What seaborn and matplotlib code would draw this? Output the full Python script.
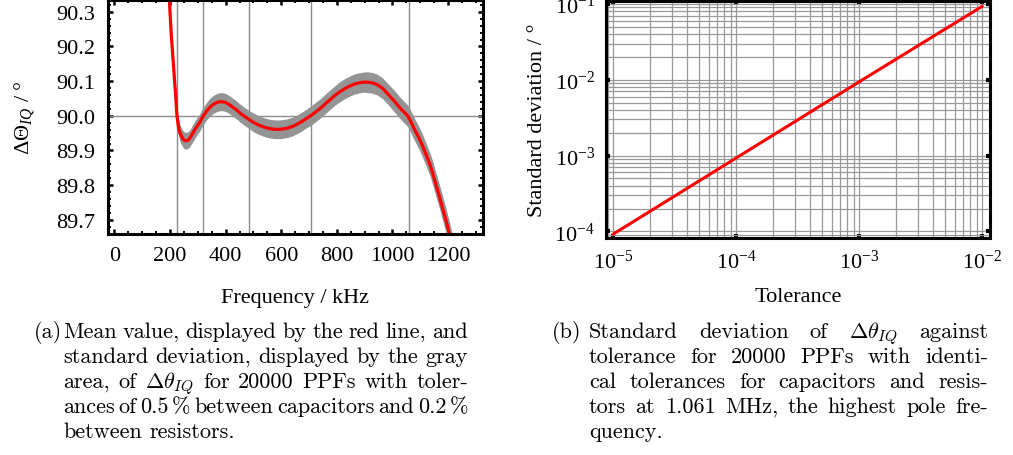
import matplotlib
matplotlib.use("Agg")
import matplotlib.pyplot as plt
import seaborn as sns
import numpy as np
import pandas as pd
from matplotlib.ticker import MultipleLocator, LogLocator, NullFormatter, FixedLocator

# ---------------- data ----------------
freq_khz = [190, 198, 204, 213, 221, 225, 230, 236, 245, 252, 260, 268, 275, 282, 290, 298,
            308, 316, 325, 334, 344, 354, 365, 375, 386, 398, 410, 424, 439, 452, 465, 476,
            487, 500, 520, 536, 553, 566, 580, 592, 605, 620, 640, 658, 675, 690, 706, 722,
            740, 758, 775, 792, 810, 830, 850, 865, 880, 895, 911, 928, 945, 965, 989, 1005,
            1025, 1040, 1055, 1068, 1080, 1095, 1109, 1122, 1135, 1146, 1157, 1168, 1180,
            1192, 1204, 1215]
mean_deg = [90.50, 90.33, 90.24, 90.14, 90.05, 90.00, 89.97, 89.95, 89.935, 89.929, 89.928,
            89.932, 89.94, 89.95, 89.961, 89.971, 89.982, 89.995, 90.006, 90.016, 90.025,
            90.032, 90.037, 90.040, 90.041, 90.039, 90.034, 90.026, 90.017, 90.008, 90.00,
            89.994, 89.988, 89.981, 89.973, 89.968, 89.964, 89.962, 89.961, 89.961, 89.962,
            89.964, 89.969, 89.976, 89.984, 89.992, 90.00, 90.01, 90.021, 90.034, 90.046,
            90.058, 90.069, 90.079, 90.087, 90.092, 90.095, 90.097, 90.097, 90.095, 90.09,
            90.079, 90.058, 90.044, 90.025, 90.012, 90.00, 89.98, 89.96, 89.937, 89.912,
            89.886, 89.86, 89.832, 89.80, 89.77, 89.735, 89.70, 89.662, 89.625]
std_deg = [0.024, 0.024, 0.024, 0.024, 0.024, 0.024, 0.024, 0.024, 0.024, 0.024, 0.024,
           0.024, 0.024, 0.025, 0.025, 0.025, 0.025, 0.025, 0.025, 0.025, 0.026, 0.026,
           0.026, 0.026, 0.026, 0.026, 0.026, 0.026, 0.026, 0.026, 0.026, 0.026, 0.026,
           0.027, 0.027, 0.027, 0.027, 0.027, 0.027, 0.027, 0.027, 0.027, 0.027, 0.027,
           0.027, 0.027, 0.028, 0.028, 0.028, 0.028, 0.028, 0.028, 0.029, 0.029, 0.029,
           0.029, 0.029, 0.029, 0.030, 0.030, 0.030, 0.030, 0.030, 0.031, 0.031, 0.031,
           0.031, 0.032, 0.032, 0.032, 0.033, 0.033, 0.033, 0.034, 0.034, 0.034, 0.035,
           0.035, 0.035, 0.036]
pole_freqs_khz = [226, 320, 483, 706, 1061]

tolerance = [1e-5, 1e-4, 1e-3, 1e-2]
std_vs_tol = [9.2e-5, 9.3e-4, 9.4e-3, 9.3e-2]

x_ticks_a = [0, 200, 400, 600, 800, 1000, 1200]
y_ticks_a = [89.7, 89.8, 89.9, 90.0, 90.1, 90.2, 90.3]

# "~" marks a thin, non-stretching space inside a word group
caption_a = [
    "Mean value, displayed by the red line, and",
    "standard deviation, displayed by the gray",
    r"area, of $\Delta\theta_{IQ}$ for 20000 PPFs with toler-",
    "ances of 0.5~% between capacitors and 0.2~%",
    "between resistors.",
]
caption_b = [
    r"Standard deviation of $\Delta\theta_{IQ}$ against",
    "tolerance for 20000 PPFs with identi-",
    "cal tolerances for capacitors and resis-",
    "tors at 1.061 MHz, the highest pole fre-",
    "quency.",
]

# ---------------- style ----------------
W, H = 1013, 456
sns.set_theme(style="white")
plt.rcParams.update({
    "font.family": ["Liberation Serif", "DejaVu Serif"],
    "mathtext.fontset": "custom",
    "mathtext.rm": "Liberation Serif",
    "mathtext.it": "Liberation Serif:italic",
    "mathtext.bf": "Liberation Serif:bold",
    "axes.unicode_minus": True,
})

fig = plt.figure(figsize=(W / 100, H / 100), dpi=100)


def px_axes(x0, y0, x1, y1):
    return fig.add_axes([x0 / W, 1 - y1 / H, (x1 - x0) / W, (y1 - y0) / H])


ax1 = px_axes(108, 1, 482.5, 234.7)
ax2 = px_axes(606, 2.2, 990, 239)

TICK_FS = 16
RED = "#ff0000"
BAND = "#949494"
GRID = "#8c8c8c"

# ---------------- panel (a) ----------------
df_a = pd.DataFrame({"freq": freq_khz, "mean": mean_deg, "std": std_deg})
lo = df_a["mean"] - df_a["std"]
hi = df_a["mean"] + df_a["std"]
for f in pole_freqs_khz:
    ax1.axvline(f, color=GRID, lw=1.0, zorder=1)
ax1.axhline(90.0, color=GRID, lw=1.0, zorder=1)
ax1.fill_between(df_a["freq"], lo, hi, color=BAND, lw=0, zorder=2)
sns.lineplot(data=df_a, x="freq", y="mean", ax=ax1, color=RED, lw=2.3, zorder=3,
             sort=False, estimator=None)
ax1.set_xlim(-23, 1324)
ax1.set_ylim(89.66, 90.334)
ax1.xaxis.set_major_locator(FixedLocator(x_ticks_a))
ax1.xaxis.set_minor_locator(MultipleLocator(50))
ax1.yaxis.set_major_locator(FixedLocator(y_ticks_a))
ax1.yaxis.set_minor_locator(MultipleLocator(0.02))
ax1.set_xticklabels([str(v) for v in x_ticks_a])
ax1.set_yticklabels([f"{v:.1f}" for v in y_ticks_a])
ax1.tick_params(which="both", direction="in", top=True, right=True, bottom=True, left=True,
                color="black", labelsize=TICK_FS, labelcolor="black")
ax1.tick_params(which="major", length=3.5, width=1.8, pad=9)
ax1.tick_params(which="minor", length=2.2, width=1.4)
ax1.set_xlabel("Frequency / kHz", fontsize=TICK_FS, color="black")
ax1.set_ylabel(r"$\Delta\Theta_{IQ}$ / °", fontsize=TICK_FS, color="black")
ax1.xaxis.set_label_coords(0.5, -(298 - 234.7) / 233.7)
ax1.xaxis.label.set_va("center")
ax1.yaxis.set_label_coords(-(108 - 25) / 374.5, 0.5)
ax1.yaxis.label.set_va("center")

# ---------------- panel (b) ----------------
df_b = pd.DataFrame({"tol": tolerance, "std": std_vs_tol})
sns.lineplot(data=df_b, x="tol", y="std", ax=ax2, color=RED, lw=2.2, zorder=3)
ax2.set_xscale("log")
ax2.set_yscale("log")
ax2.set_xlim(10 ** -5.059, 10 ** -1.937)
ax2.set_ylim(10 ** -4.088, 10 ** -0.964)
ax2.xaxis.set_major_locator(LogLocator(base=10, numticks=10))
ax2.xaxis.set_minor_locator(LogLocator(base=10, subs=np.arange(2, 10), numticks=20))
ax2.yaxis.set_major_locator(LogLocator(base=10, numticks=10))
ax2.yaxis.set_minor_locator(LogLocator(base=10, subs=np.arange(2, 10), numticks=20))
ax2.xaxis.set_minor_formatter(NullFormatter())
ax2.yaxis.set_minor_formatter(NullFormatter())
ax2.grid(True, which="both", color="#999999", lw=0.9, zorder=1)
ax2.set_axisbelow(True)
ax2.tick_params(which="major", direction="in", top=True, right=True, bottom=True, left=True,
                length=3, width=3, color="black", labelsize=TICK_FS, labelcolor="black", pad=8)
ax2.tick_params(which="minor", length=0)
ax2.set_xlabel("Tolerance", fontsize=TICK_FS, color="black")
ax2.set_ylabel("Standard deviation / °", fontsize=TICK_FS, color="black")
ax2.xaxis.set_label_coords(0.5, -(298 - 239) / 236.8)
ax2.xaxis.label.set_va("center")
ax2.yaxis.set_label_coords(-(606 - 537) / 384, 0.5)
ax2.yaxis.label.set_va("center")

for ax in (ax1, ax2):
    for s in ax.spines.values():
        s.set_visible(True)
        s.set_color("black")
        s.set_linewidth(2.2)
        s.set_zorder(5)

# ---------------- captions ----------------
CAP_FS = 16
THIN = 3.0
renderer = fig.canvas.get_renderer()


def make_text(s):
    return fig.text(0, 0, s, fontsize=CAP_FS, family="cmr10", math_fontfamily="cm",
                    va="baseline", ha="left", color="black")


def place_line(line, x0, x1, ybase, justify):
    groups = []
    for w in line.split(" "):
        parts = w.split("~")
        texts = [make_text(p) for p in parts]
        widths = [t.get_window_extent(renderer).width for t in texts]
        groups.append((texts, widths, sum(widths) + THIN * (len(parts) - 1)))
    total = sum(g[2] for g in groups)
    if justify and len(groups) > 1:
        gap = (x1 - x0 - total) / (len(groups) - 1)
    else:
        gap = CAP_FS * 100 / 72 * 0.333
    x = x0
    for texts, widths, gw in groups:
        xx = x
        for t, w in zip(texts, widths):
            t.set_position((xx / W, 1 - ybase / H))
            xx += w + THIN
        x += gw + gap


def place_caption(label, lines, xl, x0, x1, ybase0):
    fig.text(xl / W, 1 - ybase0 / H, label, fontsize=CAP_FS, family="cmr10",
             va="baseline", ha="left", color="black")
    for i, line in enumerate(lines):
        place_line(line, x0, x1, ybase0 + 25 * i, justify=(i < len(lines) - 1))


place_caption("(a)", caption_a, 34, 63, 468, 338)
place_caption("(b)", caption_b, 552, 589, 988, 338)

fig.savefig("out.png", dpi=100)
